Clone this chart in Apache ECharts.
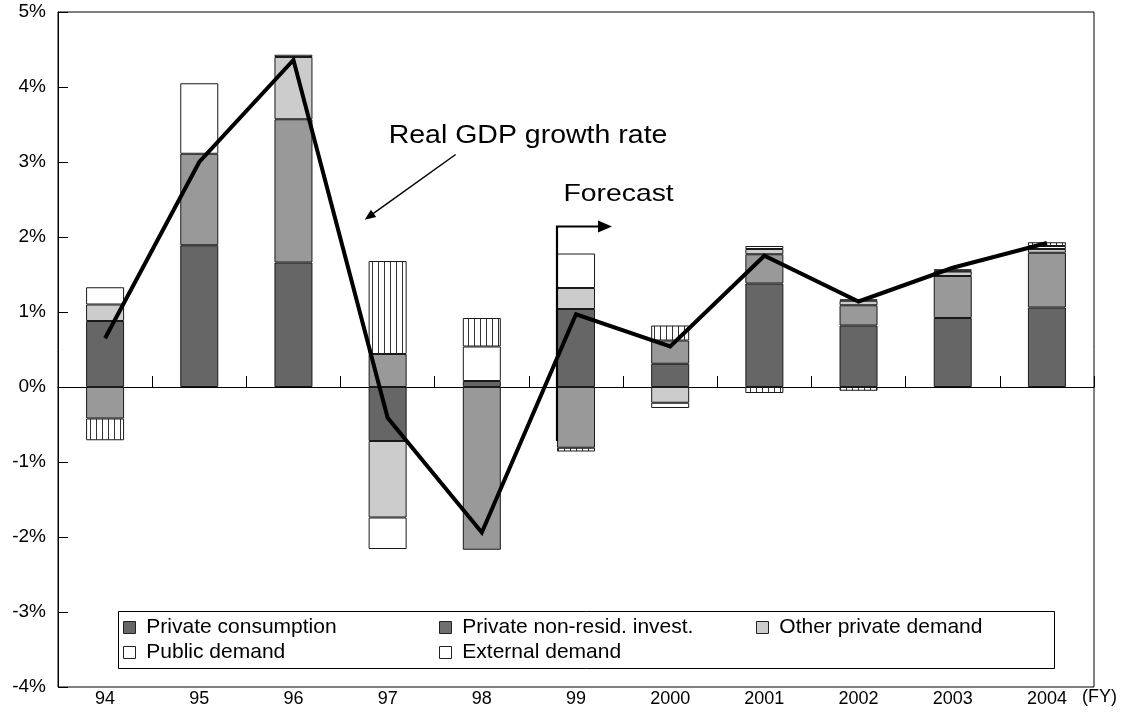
<!DOCTYPE html>
<html>
<head>
<meta charset="utf-8">
<title>Contributions to real GDP growth</title>
<script src="https://cdn.jsdelivr.net/npm/echarts@6/dist/echarts.min.js"></script>
<style>
  html, body { margin: 0; padding: 0; background: #fff; }
  #chart { width: 1146px; height: 723px; }
</style>
</head>
<body>
<div id="chart"></div>
<script>
// Fiscal years and contributions to real GDP growth (percentage points)
const years = ['94', '95', '96', '97', '98', '99', '2000', '2001', '2002', '2003', '2004'];
const privateConsumption    = [0.88, 1.89, 1.66, -0.72, 0.08, 1.04, 0.31, 1.38, 0.82, 0.92, 1.06];
const privateNonResidInvest = [-0.42, 1.22, 1.91, 0.44, -2.17, -0.81, 0.31, 0.39, 0.27, 0.56, 0.73];
const otherPrivateDemand    = [0.22, null, 0.83, -1.02, null, 0.28, -0.21, 0.07, 0.06, 0.06, 0.05];
const publicDemand          = [0.23, 0.94, 0.03, -0.42, 0.46, 0.46, -0.07, 0.04, 0.02, 0.01, 0.04];
const externalDemand        = [-0.29, null, null, 1.24, 0.38, -0.05, 0.20, -0.08, -0.05, 0.02, 0.05];
const realGdpGrowth         = [0.65, 3.00, 4.36, -0.41, -1.94, 0.97, 0.54, 1.75, 1.14, 1.59, 1.92];

const yMin = -4, yMax = 5, yStep = 1;
const FONT = '"Liberation Sans", Arial, Helvetica, sans-serif';
const BAR_W = 38;

// vertical hatch used for external demand
function hatchPattern() {
  const c = document.createElement('canvas');
  c.width = 6; c.height = 6;
  const g = c.getContext('2d');
  g.fillStyle = '#ffffff';
  g.fillRect(0, 0, 6, 6);
  g.fillStyle = '#333333';
  g.fillRect(0, 0, 1, 6);
  return { image: c, repeat: 'repeat' };
}

const chart = echarts.init(document.getElementById('chart'), null, { renderer: 'canvas' });

function barSeries(name, data, color) {
  return {
    name: name,
    type: 'bar',
    stack: 'contrib',
    data: data,
    barWidth: BAR_W,
    xAxisIndex: 0,
    yAxisIndex: 0,
    itemStyle: { color: color, borderColor: '#1a1a1a', borderWidth: 1 },
    emphasis: { disabled: true }
  };
}

function legendFor(name, left, top, swatch) {
  return {
    data: [{ name: name, itemStyle: { color: swatch, borderColor: '#222', borderWidth: 1, decal: 'none' } }],
    left: left,
    top: top,
    padding: 0,
    icon: 'rect',
    itemWidth: 12,
    itemHeight: 12,
    selectedMode: false,
    formatter: function (n) { return ' ' + n; },
    textStyle: { fontFamily: FONT, fontSize: 21, color: '#000' },
    z: 10
  };
}

const legendRow1 = 617, legendRow2 = 642;

const option = {
  animation: false,
  backgroundColor: '#ffffff',
  grid: {
    left: 58, right: 52, top: 12, bottom: 36,
    show: true, borderColor: '#000', borderWidth: 1, backgroundColor: 'transparent'
  },
  legend: [
    legendFor('Private consumption', 123, legendRow1, '#666666'),
    legendFor('Private non-resid. invest.', 439, legendRow1, '#707070'),
    legendFor('Other private demand', 756, legendRow1, '#cccccc'),
    legendFor('Public demand', 123, legendRow2, '#ffffff'),
    legendFor('External demand', 439, legendRow2, '#ffffff')
  ],
  xAxis: [
    {
      type: 'category',
      data: years,
      position: 'bottom',
      axisLine: { show: false, onZero: false },
      axisTick: { show: false },
      axisLabel: { color: '#000', fontFamily: FONT, fontSize: 18, margin: 3 },
      splitLine: { show: false }
    },
    {
      type: 'category',
      data: years,
      position: 'bottom',
      axisLine: { show: true, onZero: true, lineStyle: { color: '#000', width: 1 } },
      axisTick: { show: true, inside: true, length: 11, lineStyle: { color: '#000', width: 1 } },
      axisLabel: { show: false },
      splitLine: { show: false }
    }
  ],
  yAxis: {
    type: 'value',
    min: yMin, max: yMax, interval: yStep,
    axisLine: { show: true, lineStyle: { color: '#000', width: 1 } },
    axisTick: { show: true, inside: true, length: 10, lineStyle: { color: '#000', width: 1 } },
    axisLabel: { color: '#000', fontFamily: FONT, fontSize: 19, margin: 12, formatter: '{value}%' },
    splitLine: { show: false }
  },
  series: [
    barSeries('Private consumption', privateConsumption, '#666666'),
    barSeries('Private non-resid. invest.', privateNonResidInvest, '#999999'),
    barSeries('Other private demand', otherPrivateDemand, '#cccccc'),
    barSeries('Public demand', publicDemand, '#ffffff'),
    barSeries('External demand', externalDemand, hatchPattern()),
    {
      name: 'Real GDP growth rate',
      type: 'line',
      data: realGdpGrowth,
      xAxisIndex: 0,
      yAxisIndex: 0,
      symbol: 'none',
      z: 6,
      lineStyle: { color: '#000', width: 4, join: 'miter' },
      emphasis: { disabled: true }
    }
  ]
};

chart.setOption(option);

// Annotations placed in data space
function px(cat, v) {
  return chart.convertToPixel({ xAxisIndex: 0, yAxisIndex: 0 }, [cat, v]);
}

function arrowHead(tip, from, len, half) {
  const dx = tip[0] - from[0], dy = tip[1] - from[1];
  const d = Math.sqrt(dx * dx + dy * dy);
  const ux = dx / d, uy = dy / d;
  const bx = tip[0] - ux * len, by = tip[1] - uy * len;
  return [tip, [bx - uy * half, by + ux * half], [bx + uy * half, by - ux * half]];
}

const c97 = px('97', 0)[0];
const c99 = px('99', 0)[0];

const gdpArrowFrom = [c97 + 68, px('97', 3.1)[1]];
const gdpArrowTo = [c97 - 23, px('97', 2.23)[1]];

const fcX = c99 - BAR_W / 2;
const fcTop = px('99', 2.14)[1];
const fcBottom = px('99', -0.72)[1];
const fcRight = c99 + 22;

const labelY = px('94', yMin)[1] + 10;

chart.setOption({
  graphic: [
    {
      type: 'rect',
      z: 5,
      shape: { x: 118.5, y: 611.5, width: 936, height: 57 },
      style: { fill: '#ffffff', stroke: '#000', lineWidth: 1 }
    },
    {
      type: 'text',
      z: 20,
      x: c97 + 1, y: px('97', 3.35)[1],
      scaleX: 1.14,
      style: {
        text: 'Real GDP growth rate', x: 0, y: 0,
        fill: '#000', font: '25px ' + FONT,
        textAlign: 'left', textVerticalAlign: 'middle', align: 'left', verticalAlign: 'middle'
      }
    },
    {
      type: 'line',
      z: 20,
      shape: { x1: gdpArrowFrom[0], y1: gdpArrowFrom[1], x2: gdpArrowTo[0] + 6, y2: gdpArrowTo[1] - 4.4 },
      style: { stroke: '#000', lineWidth: 1.5 }
    },
    {
      type: 'polygon',
      z: 20,
      shape: { points: arrowHead(gdpArrowTo, gdpArrowFrom, 11, 4.5) },
      style: { fill: '#000' }
    },
    {
      type: 'text',
      z: 20,
      x: c99 - 12.5, y: px('99', 2.57)[1],
      scaleX: 1.18,
      style: {
        text: 'Forecast', x: 0, y: 0,
        fill: '#000', font: '24px ' + FONT,
        textAlign: 'left', textVerticalAlign: 'middle', align: 'left', verticalAlign: 'middle'
      }
    },
    {
      type: 'polyline',
      z: 20,
      shape: { points: [[fcX, fcBottom], [fcX, fcTop], [fcRight, fcTop]] },
      style: { stroke: '#000', lineWidth: 2.2, fill: null, lineJoin: 'miter' }
    },
    {
      type: 'polygon',
      z: 20,
      shape: { points: [[fcRight + 14, fcTop], [fcRight, fcTop - 6], [fcRight, fcTop + 6]] },
      style: { fill: '#000' }
    },
    {
      type: 'text',
      z: 20,
      x: px('2004', 0)[0] + 35, y: labelY,
      style: {
        text: '(FY)', x: 0, y: 0,
        fill: '#000', font: '18px ' + FONT,
        textAlign: 'left', textVerticalAlign: 'middle', align: 'left', verticalAlign: 'middle'
      }
    }
  ]
});
</script>
</body>
</html>
